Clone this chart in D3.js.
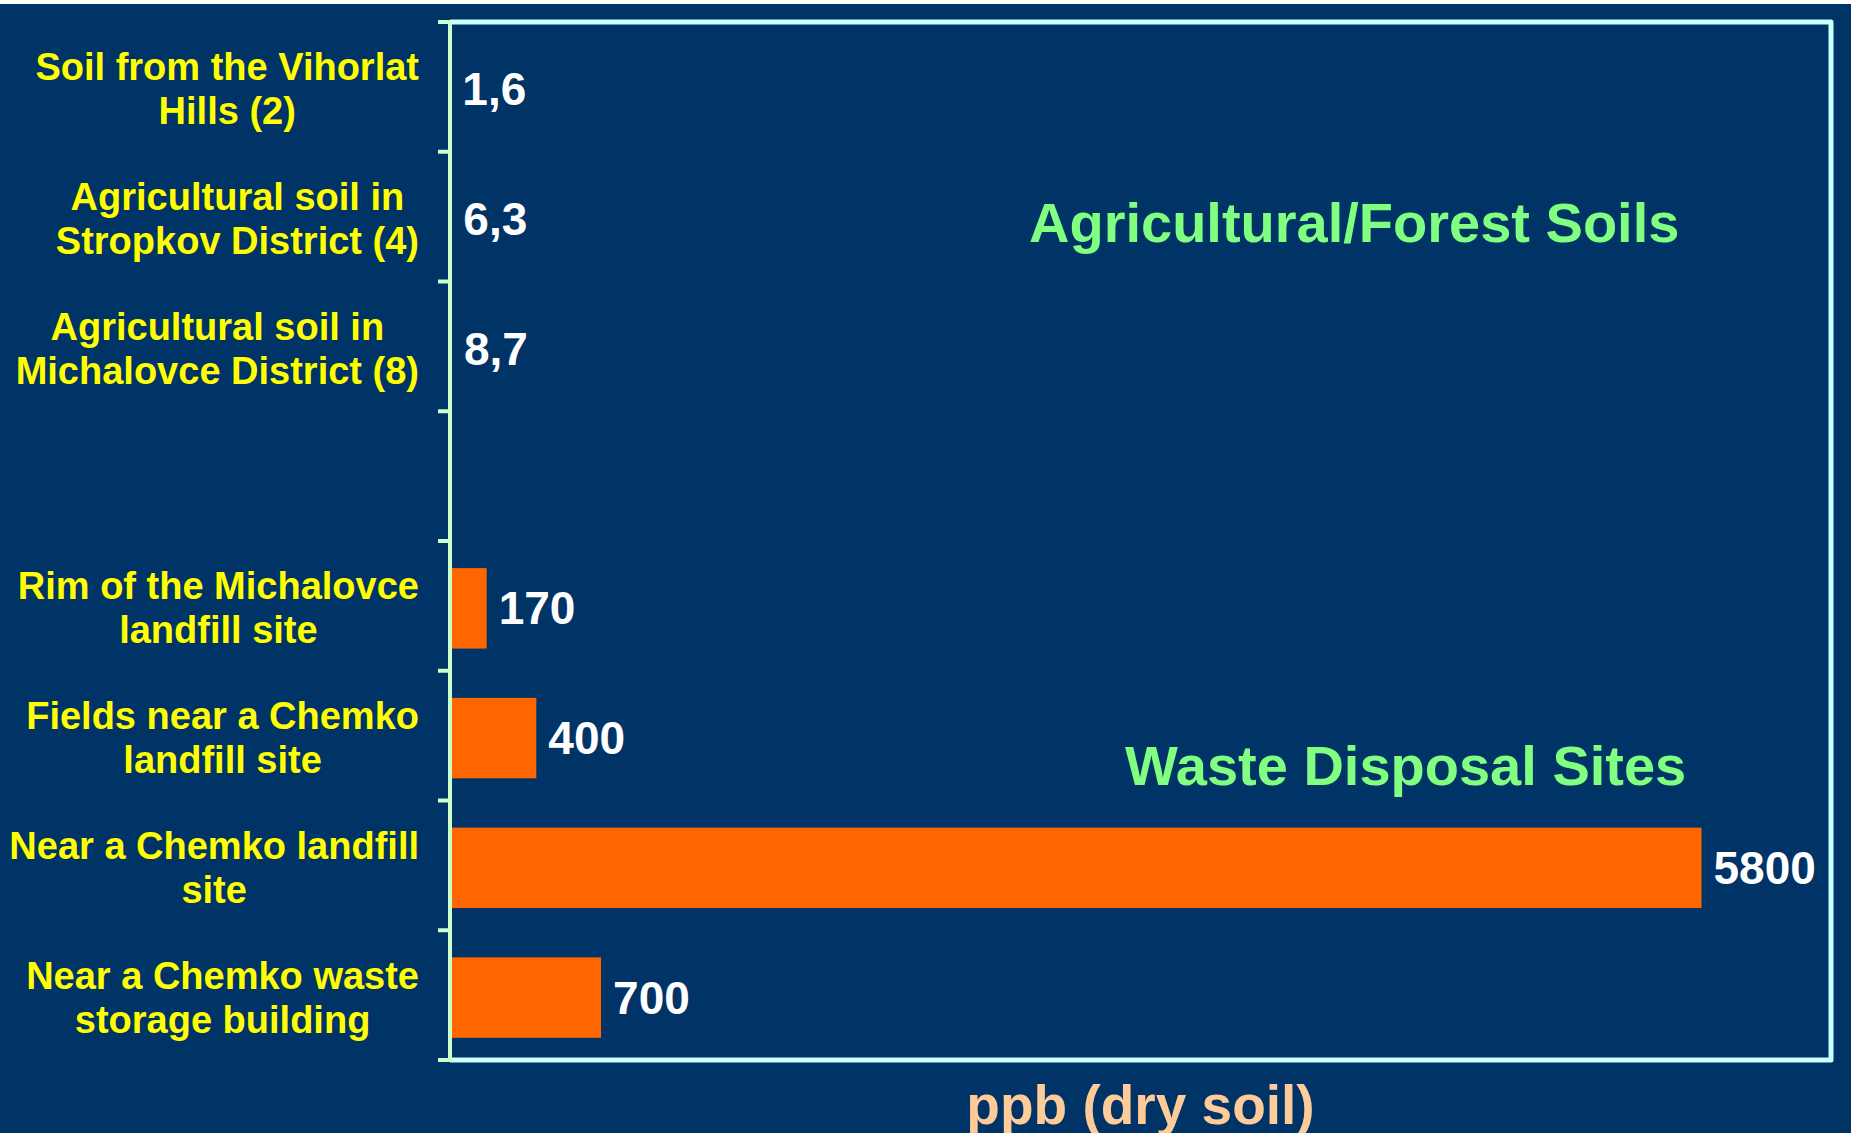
<!DOCTYPE html>
<html>
<head>
<meta charset="utf-8">
<script src="https://cdn.jsdelivr.net/npm/d3@7"></script>
<style>
  html, body { margin: 0; padding: 0; background: #ffffff; overflow: hidden; }
  svg { display: block; }
</style>
</head>
<body>
<svg id="chart" width="1851" height="1133"></svg>
<script>
// ---- data ----
const categories = [
  "Soil from the Vihorlat\nHills (2)",
  "Agricultural soil in\nStropkov District (4)",
  "Agricultural soil in\nMichalovce District (8)",
  "",
  "Rim of the Michalovce\nlandfill site",
  "Fields near a Chemko\nlandfill site",
  "Near a Chemko landfill\nsite",
  "Near a Chemko waste\nstorage building"
];
const values = [1.6, 6.3, 8.7, null, 170, 400, 5800, 700];
const groupLabels = ["Agricultural/Forest Soils", "Waste Disposal Sites"];
const axisTitle = "ppb (dry soil)";

// ---- layout ----
const W = 1851, H = 1133;
const plot = { left: 450, top: 22, right: 1831, bottom: 1060 };
const FONT = "'Liberation Sans', Arial, sans-serif";

const svg = d3.select("#chart");
svg.append("rect").attr("x", 0).attr("y", 4).attr("width", W).attr("height", H - 4).attr("fill", "#003366");

const x = d3.scaleLinear().domain([0, 6400]).range([plot.left, plot.right]);
const y = d3.scaleBand().domain(categories).range([plot.top, plot.bottom])
  .paddingInner(0.38).paddingOuter(0.19).align(0.55);

const rows = categories.map((c, i) => ({ cat: c, value: values[i], lines: c ? c.split("\n") : [] }));
const withVal = rows.filter(d => d.value != null);

// bars
svg.append("g").selectAll("rect").data(withVal).join("rect")
  .attr("x", x(0))
  .attr("y", d => y(d.cat))
  .attr("width", d => x(d.value) - x(0))
  .attr("height", y.bandwidth())
  .attr("fill", "#FF6600");

// frame (top, right, bottom)
const frame = "#CCFFFF";
svg.append("path")
  .attr("d", `M${plot.left},${plot.top} H${plot.right} V${plot.bottom} H${plot.left}`)
  .attr("fill", "none").attr("stroke", frame).attr("stroke-width", 5)
  .attr("stroke-linejoin", "round");

// left axis with ticks at category boundaries
const axisCol = "#CCFFCC";
const boundaries = d3.range(categories.length + 1).map(i => plot.top + i * y.step());
svg.append("line").attr("x1", plot.left).attr("x2", plot.left)
  .attr("y1", plot.top - 2).attr("y2", plot.bottom + 2)
  .attr("stroke", axisCol).attr("stroke-width", 4);
svg.append("g").selectAll("line").data(boundaries).join("line")
  .attr("x1", plot.left - 12).attr("x2", plot.left)
  .attr("y1", d => d).attr("y2", d => d)
  .attr("stroke", axisCol).attr("stroke-width", 4);

// category labels (centered block, widest line right-aligned at 419)
const labelRight = 419, lineH = 44;
rows.filter(d => d.lines.length).forEach(d => {
  const cy = y(d.cat) + y.bandwidth() / 2;
  const t = svg.append("text")
    .attr("font-family", FONT).attr("font-weight", "bold").attr("font-size", 38)
    .attr("fill", "#FFFF00").attr("text-anchor", "middle");
  const n = d.lines.length;
  d.lines.forEach((ln, k) => {
    t.append("tspan").attr("x", 0)
      .attr("y", cy + (k - (n - 1) / 2) * lineH)
      .attr("dominant-baseline", "central")
      .text(ln);
  });
  let maxW = 0;
  t.selectAll("tspan").each(function () { maxW = Math.max(maxW, this.getComputedTextLength()); });
  t.selectAll("tspan").attr("x", labelRight - maxW / 2);
});

// value labels
const fmt = v => v < 10 ? v.toFixed(1).replace(".", ",") : String(v);
svg.append("g").selectAll("text").data(withVal).join("text")
  .attr("x", d => x(d.value) + 12)
  .attr("y", d => y(d.cat) + y.bandwidth() / 2)
  .attr("dominant-baseline", "central")
  .attr("font-family", FONT).attr("font-weight", "bold").attr("font-size", 46)
  .attr("fill", "#FFFFFF")
  .text(d => fmt(d.value));

// group annotations
svg.append("text").attr("x", 1029).attr("y", 242)
  .attr("font-family", FONT).attr("font-weight", "bold").attr("font-size", 56)
  .attr("fill", "#80FF80").text(groupLabels[0]);
svg.append("text").attr("x", 1125).attr("y", 785)
  .attr("font-family", FONT).attr("font-weight", "bold").attr("font-size", 56)
  .attr("fill", "#80FF80").text(groupLabels[1]);

// axis title
svg.append("text").attr("x", (plot.left + plot.right) / 2).attr("y", 1124)
  .attr("text-anchor", "middle")
  .attr("font-family", FONT).attr("font-weight", "bold").attr("font-size", 55)
  .attr("fill", "#FFCC99").text(axisTitle);
</script>
</body>
</html>
